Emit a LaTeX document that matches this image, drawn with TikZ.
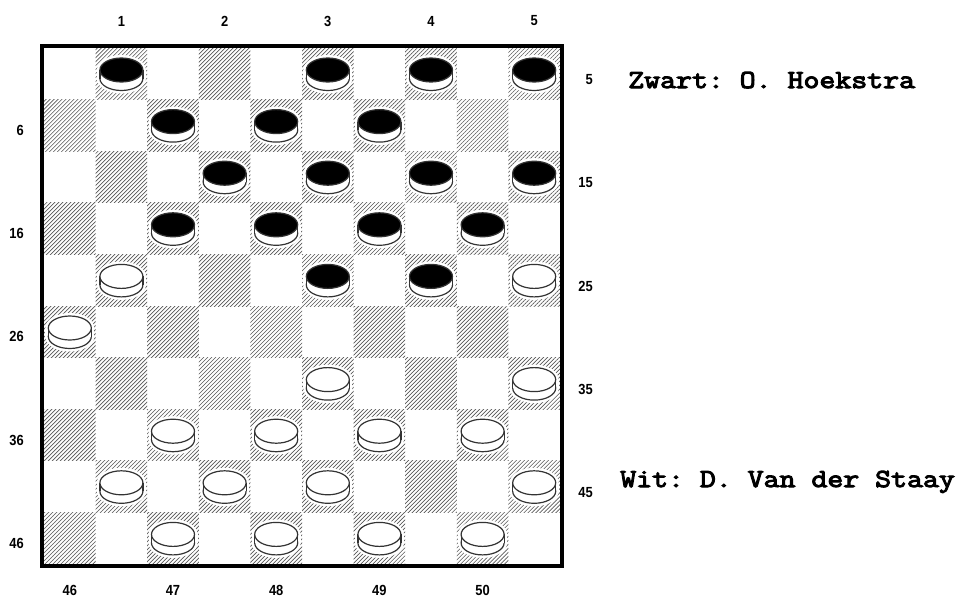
\documentclass[tikz,border=0pt]{standalone}
\usepackage{fontspec}
\usetikzlibrary{patterns.meta}
\newfontfamily\monofont{Latin Modern Mono}[FakeStretch=1.19,FakeBold=4]
\newfontfamily\labfont{Liberation Sans}[FakeStretch=0.88]
\frenchspacing
\tikzset{
  hatch/.style={pattern={Lines[angle=45,distance=2.12pt,line width=0.5pt]},pattern color=black!65},
  lab/.style={font=\labfont\bfseries\fontsize{11}{13}\selectfont, inner sep=0},
  player/.style={font=\monofont\fontsize{19.5}{24}\selectfont, inner sep=0, anchor=base west},
  rim/.style={draw=black!80, line width=0.9pt},
  halo/.style={fill=white},
  frame/.style={draw=black, line width=3pt},
}
\newcommand{\drawpiece}[3]{%
  \pgfmathsetmacro{\pyt}{#2+22}%
  \pgfmathsetmacro{\pyb}{#2+30.5}%
  \fill[halo] (#1,\pyt) circle[x radius=24.5, y radius=15];
  \fill[halo] (#1,\pyb) circle[x radius=24.5, y radius=15];
  \fill[halo] (#1-24.5,\pyt) rectangle (#1+24.5,\pyb);
  \draw[rim,fill=white] (#1,\pyb) circle[x radius=21.5, y radius=12];
  \fill[white] (#1-21.5,\pyt) rectangle (#1+21.5,\pyb);
  \draw[rim] (#1-21.5,\pyt) -- (#1-21.5,\pyb) (#1+21.5,\pyt) -- (#1+21.5,\pyb);
  \draw[rim,fill=#3] (#1,\pyt) circle[x radius=21.5, y radius=12];
}
\begin{document}
\begin{tikzpicture}[x=0.75pt,y=-0.75pt]
\fill[white] (0,0) rectangle (957,597);
\useasboundingbox (0,0) rectangle (957,597);
% dark squares
\foreach \prow in {0,...,9}{
  \foreach \pcol in {0,...,9}{
    \pgfmathtruncatemacro{\odd}{mod(\prow+\pcol,2)}
    \ifnum\odd=1
      \fill[hatch] (44+51.6*\pcol,48+51.6*\prow) rectangle ++(51.6,51.6);
    \fi
  }
}
% pieces
\foreach \n/\col in {1/black,3/black,4/black,5/black,7/black,8/black,9/black,12/black,13/black,14/black,15/black,17/black,18/black,19/black,20/black,23/black,24/black,
  21/white,25/white,26/white,33/white,35/white,37/white,38/white,39/white,40/white,41/white,42/white,43/white,45/white,47/white,48/white,49/white,50/white}{
  \pgfmathtruncatemacro{\prow}{(\n-1)/5}
  \pgfmathtruncatemacro{\pk}{mod(\n-1,5)}
  \pgfmathtruncatemacro{\pcol}{2*\pk+1-mod(\prow,2)}
  \pgfmathsetmacro{\pcx}{44+51.6*(\pcol+0.5)}
  \pgfmathsetmacro{\pty}{48+51.6*\prow}
  \drawpiece{\pcx}{\pty}{\col}
}
% frame
\draw[frame] (42,46) rectangle (562,566);
% labels
\foreach \t/\k in {1/1,2/3,3/5,4/7,5/9}{
  \node[lab] (top\t) at (44+51.6*\k+25.8,21) {\t};
}
\foreach \t/\k in {6/1,16/3,26/5,36/7,46/9}{
  \node[lab,anchor=east] (left\t) at (24,48+51.6*\k+25.8+5) {\t};
}
\foreach \t/\k in {5/0,15/2,25/4,35/6,45/8}{
  \node[lab,anchor=east] (right\t) at (593,48+51.6*\k+25.8+6) {\t};
}
\foreach \t/\k in {46/0,47/2,48/4,49/6,50/8}{
  \node[lab] (bot\t) at (44+51.6*\k+25.8,590) {\t};
}
\node[player] (zwart) at (628,88) {Zwart: O. Hoekstra};
\node[player] (wit) at (620,487) {Wit: D. Van der Staay};
\end{tikzpicture}
\end{document}
